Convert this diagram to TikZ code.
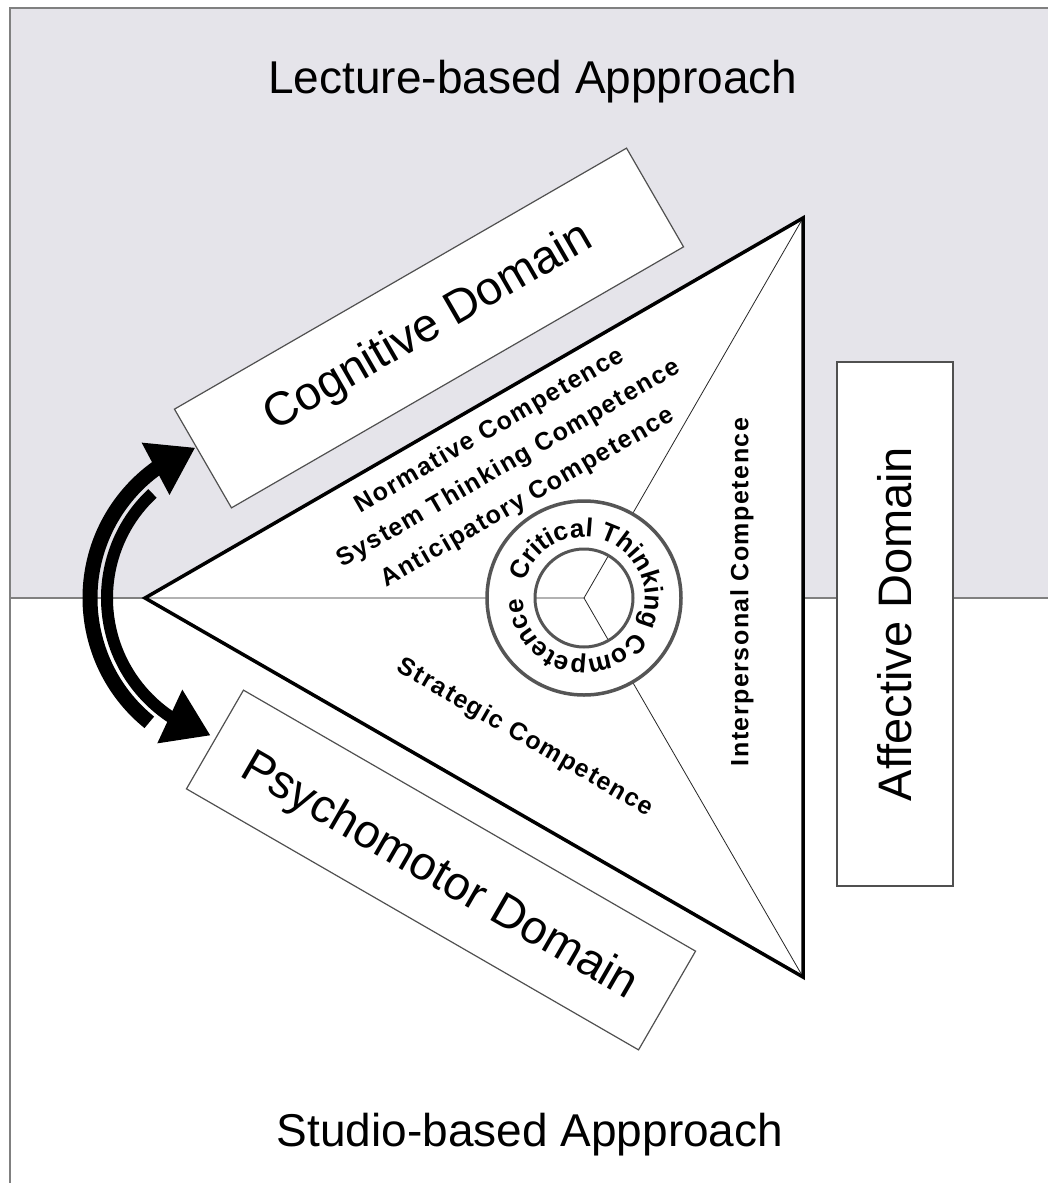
\documentclass[tikz,border=0pt]{standalone}
\usepackage{fontspec}
\setmainfont{Liberation Sans}
\usetikzlibrary{arrows.meta,decorations.text,bending,calc}
\definecolor{bgtop}{RGB}{229,228,234}
\definecolor{framegray}{RGB}{128,128,128}
\definecolor{boxgray}{RGB}{80,80,80}
\definecolor{ringgray}{RGB}{85,85,85}
\tikzset{
  domainbox/.style={draw=boxgray, line width=1.2pt, fill=white, minimum width=522pt,
    minimum height=114pt, inner sep=0pt, font=\fontsize{47}{47}\selectfont},
  comp/.style={inner sep=0pt, font=\fontsize{25}{25}\selectfont\bfseries\addfontfeatures{LetterSpace=6}},
  approach/.style={anchor=base, inner sep=0pt, font=\fontsize{46}{46}\selectfont},
  thinline/.style={line width=0.8pt, black!85},
  ring/.style={draw=ringgray, line width=3.5pt},
  bigarrow/.style={line width=#1, line cap=butt, -{Triangle[length=45pt,width=56pt]}}
}
\begin{document}
\begin{tikzpicture}[x=1pt,y=1pt]
\useasboundingbox (0,0) rectangle (1048,-1183);
\fill[white] (0,0) rectangle (1048,-1183);
\fill[bgtop] (10,-8) rectangle (1048,-598);
\draw[framegray, line width=2pt] (10,-1183) -- (10,-8) -- (1048,-8);
\draw[framegray, line width=1.5pt] (10,-598) -- (1048,-598);

\node[approach] (lec) at (533,-93) {Lecture-based Appproach};
\node[approach] (stu) at (530,-1146) {Studio-based Appproach};

\node[domainbox, rotate=30] (cog) at (429,-328) {Cognitive Domain};
\node[domainbox, rotate=-30] (psy) at (441,-870) {};
\node[rotate=-30, inner sep=0pt, font=\fontsize{47}{47}\selectfont] (psyt) at ($(psy.center)+(-2,-7)$) {Psychomotor Domain};
\node[domainbox, rotate=90, minimum width=524pt, minimum height=116pt] (aff) at (895,-624) {Affective Domain};

% triangle
\coordinate (L) at (145,-598);
\coordinate (T) at (803,-218);
\coordinate (B) at (803,-977);
\coordinate (C) at (584,-598);
\fill[white] (L) -- (T) -- (B) -- cycle;
\draw[thinline] (L) -- (C) (T) -- (C) (B) -- (C);
\draw[line width=3.5pt, line join=miter] (L) -- (T) -- (B) -- cycle;

% rings
\fill[white, even odd rule] (C) circle[radius=97] (C) circle[radius=49];
\draw[ring] (C) circle[radius=97];
\draw[ring, line width=3pt] (C) circle[radius=49];
\path[decorate, decoration={text along path,
  text={|\fontsize{26}{26}\selectfont\bfseries|Critical Thinking Competence},
  text align=fit to path}]
  ($(C)+(165:61)$) arc[start angle=165, end angle=-176, radius=61];

% competence labels
\node[comp, rotate=30] (norm) at (490,-431) {Normative Competence};
\node[comp, rotate=30] (sys) at (509,-464) {System Thinking Competence};
\node[comp, rotate=30] (anti) at (528,-498) {Anticipatory Competence};
\node[comp, rotate=90] (inter) at (742,-592) {Interpersonal Competence};
\node[comp, rotate=-30] (strat) at (525,-738) {Strategic Competence};

% double curved arrow
\coordinate (AC) at (250,-598);
\draw[bigarrow=15pt] ($(AC)+(231:160)$) arc[start angle=231, end angle=110, radius=160];
\draw[bigarrow=12pt] ($(AC)+(133:143)$) arc[start angle=133, end angle=254, radius=143];
\end{tikzpicture}
\end{document}
